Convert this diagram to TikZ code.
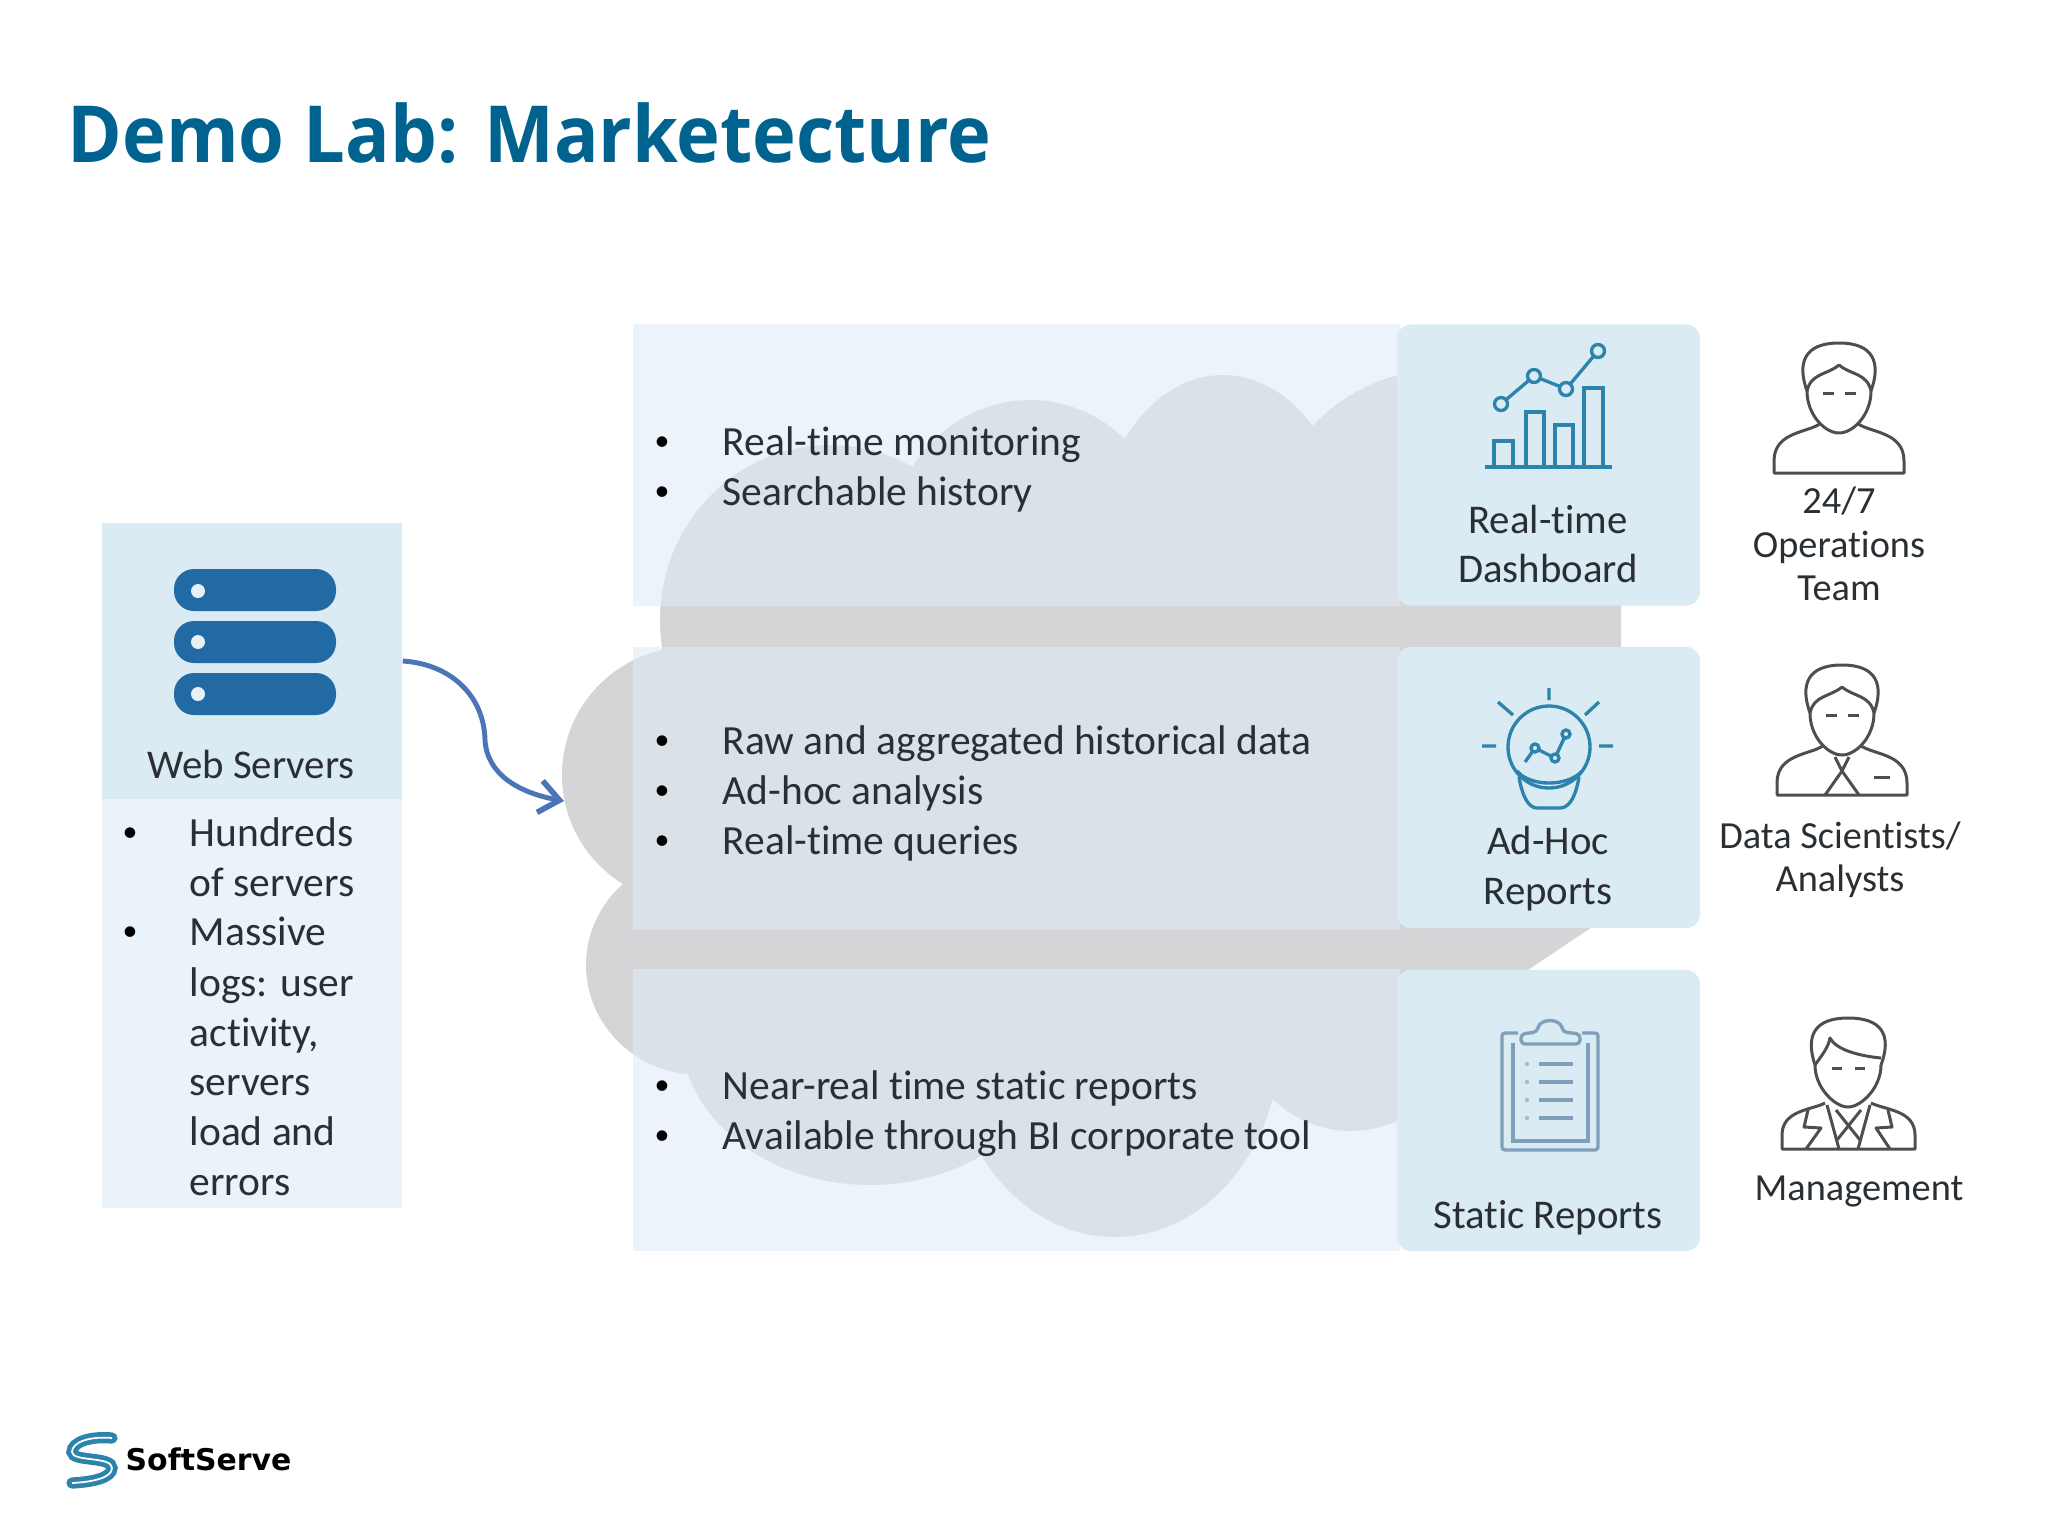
\documentclass[tikz,border=0pt]{standalone}
\usepackage{fontspec}
\usetikzlibrary{arrows.meta}
\setmainfont[Ligatures=NoCommon]{Carlito}
\newfontfamily\titlefont[FakeStretch=0.94]{Open Sans}
\newfontfamily\logofont{DejaVu Sans}
\definecolor{titleblue}{HTML}{00638F}
\definecolor{cloudgrey}{HTML}{D5D4D6}
\definecolor{bandblue}{HTML}{DFEBF7}
\definecolor{panelblue}{HTML}{DAEBF3}
\definecolor{sidepanel}{HTML}{EAF3FA}
\definecolor{serverblue}{HTML}{216AA3}
\definecolor{chartblue}{HTML}{2C84AD}
\definecolor{clipblue}{HTML}{7F9FBB}
\definecolor{persongrey}{HTML}{4E4E4E}
\definecolor{inkdark}{HTML}{2A2F33}
\definecolor{flowblue}{HTML}{4A76B8}
\tikzset{
  band/.style={rectangle, fill=bandblue, fill opacity=0.6, minimum width=7.67cm, minimum height=2.82cm, inner sep=0pt},
  panel/.style={rectangle, fill=panelblue, rounded corners=0.14cm, minimum width=3.03cm, minimum height=2.81cm, inner sep=0pt},
  itemtext/.style={anchor=base west, inner sep=0pt, text=inkdark, font=\fontsize{11.8}{14}\selectfont},
  bulletdot/.style={anchor=base, inner sep=0pt, yshift=0.05cm, text=black, font=\fontsize{8.5}{10}\selectfont},
  boxlabel/.style={align=center, inner sep=0pt, text=inkdark, font=\fontsize{11.6}{14.2}\selectfont},
  personlabel/.style={align=center, inner sep=0pt, text=inkdark, font=\fontsize{10.9}{12.3}\selectfont},
  personline/.style={draw=persongrey, line width=0.85pt, line join=round},
  chartline/.style={draw=chartblue, line width=0.95pt},
  clipline/.style={draw=clipblue, line width=0.95pt},
  flowarrow/.style={draw=flowblue, line width=1.4pt, -{Straight Barb[length=0.2cm,width=0.32cm,line width=1.6pt]}},
  personhead/.pic={
    \draw[personline] (-32,48) .. controls (-42,20) and (-35,0) .. (0,0) .. controls (35,0) and (42,20) .. (32,48);
    \draw[personline] (-32,48) .. controls (-28,30) and (-12,32) .. (0,22) .. controls (12,32) and (28,30) .. (32,48);
    \draw[personline] (-32,48) .. controls (-32,72) and (-14,90) .. (0,90) .. controls (14,90) and (32,72) .. (32,48);
    \draw[personline] (-16,50) -- (-5,50) (6,50) -- (17,50);
  }
}
\begin{document}
\begin{tikzpicture}[x=0.01cm,y=-0.01cm]
    \useasboundingbox (0,0) rectangle (2048,1536);

    % Cloud
    \fill[cloudgrey]
        (663,590) -- (1621,590) -- (1621,927) -- (1592,927) -- (1528,970) -- (1397,1030) -- (680,1030) -- (660,900) -- cycle;
    \foreach \cx/\cy/\rx/\ry in {690/775/128/128, 700/965/114/110, 830/620/170/175, 1030/560/145/160,
        1223/560/130/185, 1440/560/180/190, 870/1030/190/155, 1115/1040/165/197, 1351/1000/120/131} {
        \fill[cloudgrey] (\cx,\cy) ellipse [x radius=\rx, y radius=\ry];
    }

    % Bands
    \node[band] (liveband) at (1016.5,465) {};
    \node[band] (adhocband) at (1016.5,788.5) {};
    \node[band] (staticband) at (1016.5,1110) {};

    % Web servers
    \node[rectangle, fill=panelblue, minimum width=3cm, minimum height=2.76cm, inner sep=0pt] (webbox) at (252,661) {};
    \node[rectangle, fill=sidepanel, minimum width=3cm, minimum height=4.09cm, inner sep=0pt] (webnotes) at (252,1003.5) {};
    \foreach \y/\d in {569/591, 621/642, 673/694} {
        \fill[serverblue, rounded corners=0.2cm] (174,\y) rectangle (336,\y+42);
        \fill[panelblue!70!white] (198,\d) circle [radius=7];
    }
    \node[boxlabel] (weblabel) at (251,764) {Web Servers};
    \node[bulletdot] (webdotA) at (130,846) {•};
    \node[bulletdot] (webdotB) at (130,945) {•};
    \foreach \y/\lab [count=\i] in {846/Hundreds, 896/of servers, 945/Massive, 996/logs: user, 1046/{activity,}, 1095/servers, 1145/load and, 1195/errors} {
        \node[itemtext] (webitem\i) at (189,\y) {\lab};
    }

    % Arrow into the cloud
    \coordinate (cloudin) at (564,801);
    \draw[flowarrow] (webbox.east) .. controls (450,664) and (484,695) .. (485,740) .. controls (487,775) and (520,793) .. (cloudin);

    % Right panels
    \node[panel] (livepanel) at (1548.5,465) {};
    \node[panel] (adhocpanel) at (1548.5,787.5) {};
    \node[panel] (staticpanel) at (1548.5,1110.5) {};

    % Band lists
    \foreach \y/\lab [count=\i] in {455/Real-time monitoring, 505/Searchable history, 754/Raw and aggregated historical data,
        804/Ad-hoc analysis, 854/Real-time queries, 1099/Near-real time static reports, 1149/Available through BI corporate tool} {
        \node[bulletdot] (banddot\i) at (662,\y) {•};
        \node[itemtext] (banditem\i) at (722,\y) {\lab};
    }

    % Panel labels
    \node[boxlabel] (livelabel) at (1548,544) {Real-time\\Dashboard};
    \node[boxlabel] (adhoclabel) at (1548,869) {Ad-Hoc\\Reports};
    \node[boxlabel] (staticlabel) at (1548,1218) {Static Reports};

    % People labels
    \node[personlabel] (opslabel) at (1839,544) {24/7\\Operations\\Team};
    \node[personlabel] (analystlabel) at (1840,860) {Data Scientists/\\Analysts};
    \node[personlabel] (mgmtlabel) at (1859,1191) {Management};

    % Chart icon
    \draw[chartline] (1485,467) -- (1612,467);
    \foreach \xa/\xb/\t in {1494/1513/441, 1526/1544/412, 1555/1573/425, 1584/1603/388} {
        \draw[chartline] (\xa,467) -- (\xa,\t) -- (\xb,\t) -- (\xb,467);
    }
    \draw[chartline] (1501,404) -- (1534,376) -- (1566,389) -- (1598,351);
    \foreach \x/\y in {1501/404, 1534/376, 1566/389, 1598/351} {
        \filldraw[chartline, fill=panelblue] (\x,\y) circle [radius=6.5];
    }

    % Bulb icon
    \draw[chartline] (1549,747) circle [radius=41];
    \draw[chartline] (1549,688) -- (1549,700) (1498,702) -- (1513,715) (1599,702) -- (1585,715)
        (1482,746) -- (1496,746) (1599,746) -- (1613,746);
    \draw[chartline] (1517,771) .. controls (1530,787) and (1568,787) .. (1582,771);
    \draw[chartline] (1519,777) .. controls (1522,795) and (1528,808) .. (1537,808) -- (1560,808) .. controls (1570,808) and (1576,795) .. (1579,777);
    \draw[chartline] (1525,762) -- (1535,748) -- (1555,758) -- (1566,734);
    \foreach \x/\y in {1535/748, 1555/758, 1566/734} {
        \filldraw[chartline, fill=panelblue] (\x,\y) circle [radius=4];
    }

    % Clipboard icon
    \draw[clipline, rounded corners=0.03cm] (1518,1033) -- (1502,1033) -- (1502,1150) -- (1598,1150) -- (1598,1033) -- (1582,1033);
    \draw[clipline] (1513,1043) -- (1513,1141) -- (1588,1141) -- (1588,1043);
    \draw[clipline, fill=panelblue, rounded corners=0.04cm] (1521,1044) -- (1521,1034) -- (1537,1032) .. controls (1540,1018) and (1560,1018) .. (1563,1032) -- (1580,1034) -- (1580,1044) -- cycle;
    \foreach \y in {1064, 1082, 1100, 1118} {
        \draw[clipline] (1539,\y) -- (1573,\y);
        \fill[clipblue!70!white] (1527,\y) circle [radius=2.2];
    }

    % Operations person
    \pic (opshead) at (1839,343) {personhead};
    \draw[personline] (1821,423) .. controls (1809,433) and (1774,431) .. (1774,461) -- (1774,473) -- (1904,473) -- (1904,461) .. controls (1904,431) and (1869,433) .. (1857,423);

    % Analyst person
    \pic (analysthead) at (1842,665) {personhead};
    \draw[personline] (1824,745) .. controls (1812,755) and (1777,753) .. (1777,783) -- (1777,795) -- (1907,795) -- (1907,783) .. controls (1907,753) and (1872,755) .. (1860,745);
    \draw[personline] (1835,757) -- (1842,771) -- (1849,757);
    \draw[personline] (1825,795) -- (1842,771) -- (1859,795);
    \draw[personline] (1874,777) -- (1890,777);

    % Manager person
    \draw[personline] (1815,1065) .. controls (1805,1035) and (1815,1018) .. (1848,1018) .. controls (1882,1018) and (1892,1035) .. (1881,1065);
    \draw[personline] (1815,1065) .. controls (1822,1055) and (1828,1048) .. (1830,1038) .. controls (1836,1050) and (1860,1056) .. (1881,1058);
    \draw[personline] (1815,1065) .. controls (1815,1088) and (1835,1107) .. (1848,1107) .. controls (1861,1107) and (1881,1088) .. (1881,1065);
    \draw[personline] (1832,1068) -- (1842,1068) (1855,1068) -- (1865,1068);
    \draw[personline] (1825,1103) .. controls (1812,1110) and (1782,1110) .. (1782,1135) -- (1782,1149) -- (1915,1149) -- (1915,1135) .. controls (1915,1110) and (1885,1110) .. (1871,1103);
    \draw[personline] (1808,1110) -- (1804,1127) -- (1821,1128) -- (1806,1149);
    \draw[personline] (1888,1110) -- (1892,1127) -- (1876,1128) -- (1890,1149);
    \draw[personline] (1827,1105) -- (1839,1149) (1870,1105) -- (1858,1149);
    \draw[personline] (1836,1110) -- (1860,1140) (1861,1110) -- (1837,1140);

    % Title
    \node[anchor=base west, inner sep=0pt, text=titleblue, font=\titlefont\bfseries\fontsize{22.4}{26}\selectfont] (slidetitle) at (67,162) {Demo Lab: Marketecture};

    % Logo
    \draw[chartblue, line width=3.2pt, line cap=round] (112,1438) .. controls (90,1436) and (72,1442) .. (72,1452) .. controls (72,1462) and (112,1456) .. (112,1468) .. controls (112,1478) and (92,1482) .. (72,1483);
    \draw[white, line width=0.5pt] (112,1438) .. controls (90,1436) and (72,1442) .. (72,1452) .. controls (72,1462) and (112,1456) .. (112,1468) .. controls (112,1478) and (92,1482) .. (72,1483);
    \node[anchor=west, inner sep=0pt, text=black, font=\logofont\bfseries\fontsize{8.5}{10}\selectfont] (logotext) at (125,1459) {SoftServe};
\end{tikzpicture}
\end{document}
